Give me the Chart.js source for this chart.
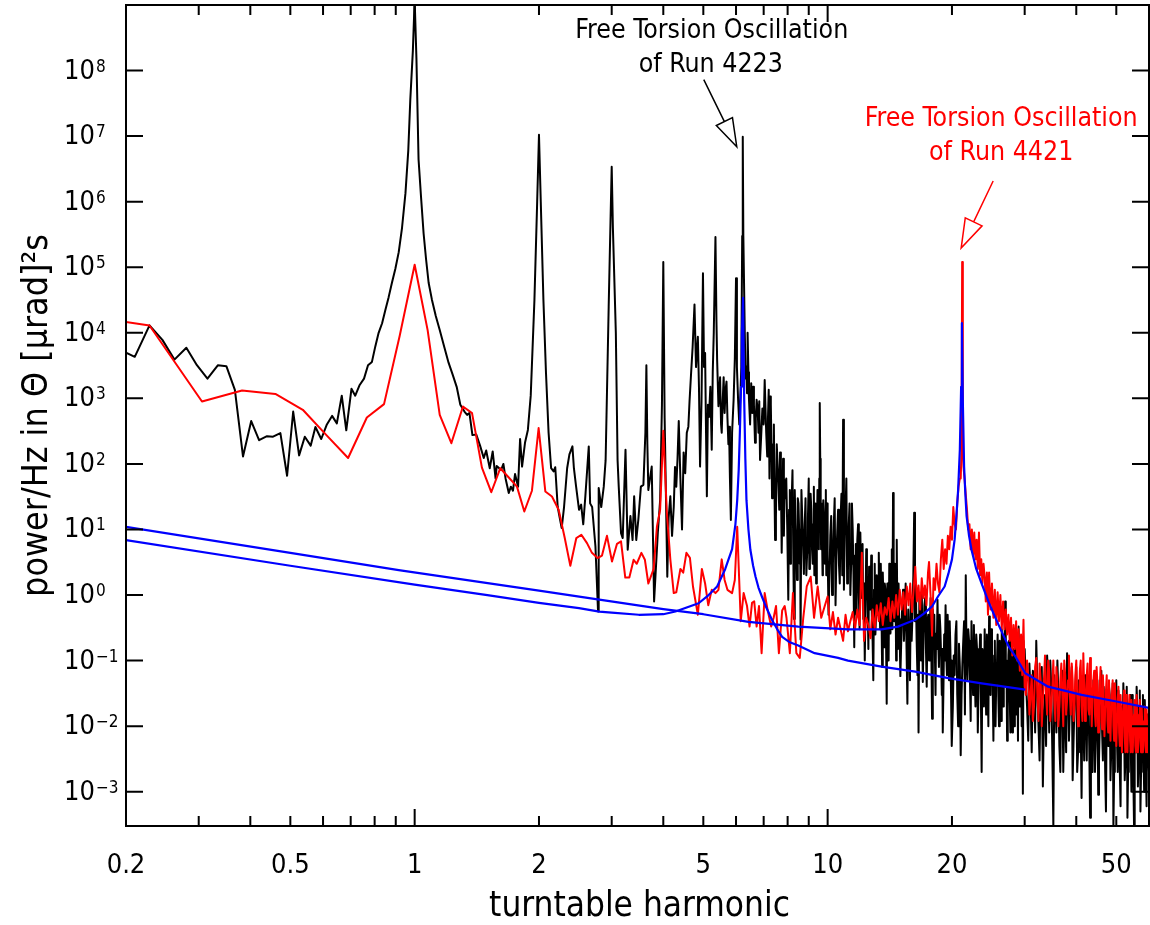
<!DOCTYPE html>
<html>
<head>
<meta charset="utf-8">
<script src="https://cdn.jsdelivr.net/npm/chart.js@4.4.0/dist/chart.umd.min.js"></script>
<style>
  html, body { margin: 0; padding: 0; background: #fff; }
</style>
</head>
<body>
<canvas id="chart" width="1150" height="925"></canvas>
<script>
const FONT = "'DejaVu Sans Condensed', 'Liberation Sans Narrow', 'DejaVu Sans', sans-serif";

// axis ticks
const xLabelValues = [0.2, 0.5, 1, 2, 5, 10, 20, 50];
const xMinorTicks = [0.3, 0.4, 0.5, 0.6, 0.7, 0.8, 0.9, 2, 3, 4, 5, 6, 7, 8, 9, 20, 30, 40, 50];
const xMajorTicks = [1, 10];
const yDecades = [-3, -2, -1, 0, 1, 2, 3, 4, 5, 6, 7, 8];

// spectrum of run 4223 (black), [harmonic, power]
const black4223 = [
  [0.2,5000],[0.21,4300],[0.228,13000],[0.245,7800],[0.262,3900],[0.28,5900],[0.297,3200],[0.315,2000],
  [0.334,3200],[0.35,3100],[0.367,1350],[0.384,130],[0.402,450],[0.42,230],[0.439,265],[0.454,260],
  [0.473,295],[0.491,66],[0.508,630],[0.525,135],[0.542,260],[0.56,190],[0.575,365],[0.594,240],
  [0.613,400],[0.631,540],[0.648,415],[0.666,1100],[0.683,325],[0.703,1400],[0.718,1100],[0.736,1600],
  [0.754,2000],[0.771,3200],[0.788,3600],[0.803,6200],[0.818,10000],[0.834,14000],[0.849,22000],
  [0.865,35000],[0.881,58000],[0.898,95000],[0.915,1.7e5],[0.932,4e5],[0.95,1.35e6],[0.965,6e6],
  [0.976,3.6e7],[0.99,2e8],[1.0,1.2e9],[1.01,1.5e8],[1.022,4.4e6],[1.036,1.2e6],[1.051,3.3e5],
  [1.066,1.3e5],[1.081,5.8e4],[1.101,3.2e4],[1.125,1.8e4],[1.15,1.1e4],[1.18,6000],[1.208,3500],
  [1.236,2300],[1.264,1500],[1.29,800],[1.32,630],[1.34,560],[1.357,600],[1.38,275],[1.41,280],
  [1.44,190],[1.47,123],[1.49,160],[1.52,86],[1.545,155],[1.57,60],[1.58,93],[1.62,81],[1.64,100],
  [1.66,60],[1.69,36],[1.71,45],[1.73,39],[1.75,70],[1.78,45],[1.8,240],[1.82,91],[1.85,210],
  [1.88,330],[1.91,1100],[1.95,3.2e4],[1.98,1e6],[2.0,1.05e7],[2.02,1e6],[2.05,3.2e4],[2.08,2400],
  [2.11,300],[2.14,86],[2.17,77],[2.19,89],[2.22,22],[2.25,14],[2.27,10.5],[2.3,22],[2.34,86],
  [2.37,140],[2.41,185],[2.43,86],[2.46,45],[2.5,20],[2.53,24],[2.56,12],[2.59,32],[2.64,185],
  [2.66,25],[2.69,22],[2.74,5.5],[2.78,0.56],[2.79,43],[2.83,22],[2.87,45],[2.9,114],[2.95,2.5e4],
  [2.98,5e5],[3.0,3.4e6],[3.02,4e5],[3.07,1e4],[3.1,114],[3.12,45],[3.16,8.8],[3.19,7.4],[3.24,165],
  [3.28,4.9],[3.33,16],[3.37,6.9],[3.4,32],[3.44,6.9],[3.48,14],[3.53,45],[3.58,48],[3.62,300],
  [3.64,3200],[3.66,200],[3.68,40],[3.75,91],[3.8,0.8],[3.88,9],[3.93,28],[3.97,800],[4.0,1.2e5],
  [4.03,500],[4.06,30],[4.09,1.9],[4.12,15],[4.16,32],[4.2,8],[4.24,22],[4.27,90],[4.3,45],[4.33,120],
  [4.36,450],[4.4,60],[4.44,10],[4.48,150],[4.52,72],[4.56,300],[4.6,370],[4.63,900],[4.67,2400],
  [4.71,6000],[4.76,2.7e4],[4.8,3000],[4.85,8700],[4.88,1500],[4.91,91],[4.95,900],[4.99,8.1e4],
  [5.02,3000],[5.05,4900],[5.08,200],[5.1,32],[5.13,800],[5.16,520],[5.2,1500],[5.24,165],[5.27,2500],
  [5.3,1e4],[5.35,2.9e5],[5.38,1.5e4],[5.4,3900],[5.44,760],[5.49,2100],[5.52,400],[5.54,300],
  [5.57,900],[5.6,2100],[5.63,600],[5.66,1350],[5.69,1800],[5.72,500],[5.75,200],[5.77,370],[5.8,60],
  [5.83,14],[5.87,300],[5.92,950],[5.96,4000],[6.0,6.8e4],[6.03,3000],[6.07,950],[6.11,400],
  [6.15,1200],[6.18,3000],[6.21,3e5],[6.23,9.8e6],[6.25,3e5],[6.3,1e4],[6.33,2000],[6.35,3100],
  [6.38,1200],[6.4,1e4],[6.43,2500],[6.45,950],[6.49,400],[6.53,1700],[6.57,600],[6.6,1500],
  [6.63,800],[6.67,210],[6.7,500],[6.73,950],[6.77,680],[6.8,300],[6.83,900],[6.86,115],[6.9,250],
  [6.95,700],[7.0,400],[7.04,1900],[7.1,300],[7.14,130],
  [7.2,1350],[7.26,1070],[7.31,200],[7.36,91],[7.41,400],[7.46,6.9],[7.53,200],[7.6,51],[7.67,150],
  [7.74,4.4],[7.8,120],[7.87,57],[7.94,60],[8.03,0.85],[8.1,40],[8.15,11],[8.22,80],[8.29,0.43],
  [8.36,12],[8.43,1.7],[8.5,25],[8.56,3],[8.6,0.21],[8.68,15],[8.76,2.1],[8.84,30],[8.92,4.4],
  [9.0,60],[9.06,8],[9.13,20],[9.2,3],[9.26,45],[9.31,9],[9.38,1.5],[9.45,40],[9.52,5],[9.57,850],
  [9.62,30],[9.66,12],[9.72,2],[9.76,28],[9.85,3],[9.9,40],[9.95,16],[10.0,4],
  [10.1,1.9],[10.2,16],[10.3,3],[10.4,30],[10.5,4],[10.6,20],[10.7,1.5],[10.8,35],[10.9,470],
  [11.0,8],[11.1,60],[11.2,2.4],[11.3,25],[11.4,3],[11.5,10],[11.6,0.16],[11.7,6],[11.8,7],[11.9,1],
  [12.0,9],[12.1,0.9],[12.2,0.43],[12.3,0.1],[12.4,5],[12.5,0.8],[12.6,2.7],[12.7,0.6],[12.8,0.33],
  [12.9,0.05],[13.0,3],[13.1,0.5],[13.2,1.6],[13.3,4.4],[13.4,0.3],[13.5,0.5],[13.6,2.2],[13.7,0.16],
  [13.8,1.2],[13.9,0.022],[14.0,0.8],[14.1,3],[14.2,0.26],[14.3,5],[14.4,36],[14.5,0.4],[14.6,1.35],
  [14.7,7],[14.8,0.15],[14.9,0.43],[15.0,0.058],
  [15.15,0.7],[15.3,0.2],[15.45,1.5],[15.6,0.022],[15.75,0.23],[15.9,0.9],[16.05,0.5],[16.2,18],
  [16.35,1.35],[16.5,0.06],[16.6,0.008],[16.75,0.33],[16.9,1.1],[17.0,0.047],[17.15,0.7],[17.3,0.15],
  [17.45,0.4],[17.6,0.1],[17.75,0.9],[17.9,0.013],[18.05,0.35],[18.2,0.09],[18.3,0.26],[18.45,0.85],
  [18.6,0.08],[18.75,0.3],[18.9,0.03],[19.0,0.008],[19.15,0.25],[19.3,0.7],[19.45,0.06],[19.6,0.2],
  [19.75,0.4],[19.9,0.03],[20.0,0.005],
  [20.2,0.12],[20.4,0.25],[20.6,0.03],[20.8,0.18],[21.0,0.0036],[21.2,0.09],[21.4,0.4],[21.6,2],
  [21.8,0.05],[22.0,0.2],[22.2,0.012],[22.4,0.1],[22.6,0.35],[22.8,0.02],[23.0,0.15],[23.2,0.04],
  [23.4,0.25],[23.6,0.002],[23.8,0.08],[24.0,0.3],[24.2,0.015],[24.4,0.12],[24.6,0.47],[24.8,0.03],
  [25.0,0.1],[25.2,0.006],[25.4,0.2],[25.6,0.05],[25.8,0.25],[26.0,0.01],[26.2,0.07],[26.4,0.3],
  [26.6,0.02],[26.8,0.15],[26.9,0.8],[27.0,0.04],[27.2,0.006],[27.4,0.12],[27.6,0.03],[27.8,0.25],
  [28.0,0.008],[28.2,0.06],[28.4,0.2],[28.6,0.015],[28.8,0.1],[29.0,0.33],[29.2,0.02],[29.4,0.07],
  [29.7,0.00093],[29.9,0.05],[30.0,0.15],
  [30.4,0.02],[30.8,0.09],[31.2,0.004],[31.6,0.05],[32.0,0.2],[32.4,0.01],[32.8,0.06],[33.2,0.0012],
  [33.6,0.03],[34.0,0.12],[34.4,0.008],[34.8,0.04],[35.2,0.0003],[35.6,0.025],[36.0,0.1],[36.4,0.005],
  [36.8,0.05],[37.2,0.002],[37.6,0.03],[38.0,0.13],[38.4,0.006],[38.8,0.04],[39.2,0.0015],[39.6,0.02],
  [40.0,0.08],[40.4,0.004],[40.8,0.03],[41.2,0.0008],[41.6,0.015],[42.0,0.06],[42.4,0.003],[42.8,0.025],
  [43.2,0.0004],[43.6,0.012],[44.0,0.05],[44.4,0.002],[44.8,0.02],[45.2,0.0009],[45.6,0.01],[46.0,0.07],
  [46.4,0.003],[46.8,0.018],[47.2,0.0005],[47.6,0.008],[48.0,0.04],[48.4,0.0015],[48.8,0.015],
  [49.2,0.0003],[49.6,0.006],[50.0,0.05],[50.4,0.002],[50.8,0.012],[51.2,0.0006],[51.6,0.007],
  [52.0,0.045],[52.4,0.0015],[52.8,0.01],[53.2,0.0004],[53.6,0.006],[54.0,0.03],[54.4,0.001],
  [54.8,0.008],[55.2,0.0003],[55.6,0.005],[56.0,0.04],[56.4,0.0012],[56.8,0.009],[57.2,0.0005],
  [57.6,0.006],[58.0,0.03],[58.4,0.001],[58.8,0.01],[59.2,0.0006],[59.6,0.007],[60.0,0.002]
];

// more readings of run 4223 inside the dense noise band
const black4223Dense = [
  [7.17,500],[7.23,60],[7.285,800],[7.335,30],[7.385,200],[7.435,40],[7.495,15],[7.565,100],
  [7.635,20],[7.705,60],[7.77,25],[7.835,8],[7.905,30],[7.985,10],[8.065,20],[8.125,3],[8.185,30],
  [8.255,5],[8.325,40],[8.395,6],[8.465,30],[8.53,10],[8.58,8],[8.64,40],[8.72,6],[8.8,12],[8.88,2],
  [8.96,15],[9.03,2.5],[9.095,35],[9.165,5],[9.23,12],[9.285,2],[9.345,25],[9.415,8],[9.485,15],
  [9.545,60],[9.595,120],[9.64,5],[9.69,25],[9.74,6],[9.805,15],[9.875,12],[9.925,2],[9.975,25],
  [10.05,0.5],[10.15,8],[10.25,1],[10.35,12],[10.45,0.7],[10.55,9],[10.65,3],[10.75,15],[10.85,2],
  [10.95,1.2],[11.05,20],[11.15,1.5],[11.25,12],[11.35,1],[11.45,25],[11.55,2],[11.65,4],[11.75,0.5],
  [11.85,12],[11.95,0.3],[12.05,2],[12.15,6],[12.25,1.5],[12.35,0.6],[12.45,2],[12.55,0.15],[12.65,1],
  [12.75,4],[12.85,0.2],[12.95,1.2],[13.05,0.25],[13.15,2],[13.25,0.5],[13.35,0.9],[13.45,3],
  [13.55,0.08],[13.65,0.8],[13.75,1.5],[13.85,0.2],[13.95,1.5],[14.05,0.1],[14.15,0.6],[14.25,2],
  [14.35,0.3],[14.45,1],[14.55,3],[14.65,0.1],[14.75,0.5],[14.85,1.5],[14.95,0.2],
  [15.075,0.2],[15.225,1.2],[15.375,0.5],[15.525,0.15],[15.675,0.6],[15.825,0.05],[15.975,0.2],
  [16.125,2],[16.275,0.4],[16.425,0.2],[16.55,0.5],[16.675,0.9],[16.825,0.1],[16.95,0.3],[17.075,0.25],
  [17.225,0.9],[17.375,0.04],[17.525,0.5],[17.675,0.25],[17.825,0.15],[17.975,0.6],[18.125,0.5],
  [18.25,0.03],[18.375,0.15],[18.525,0.2],[18.675,0.5],[18.825,0.12],[18.95,0.15],[19.075,0.04],
  [19.225,0.1],[19.375,0.12],[19.525,0.5],[19.675,0.05],[19.825,0.15],[19.95,0.1],
  [20.1,0.02],[20.3,0.06],[20.5,0.4],[20.7,0.01],[20.9,0.08],[21.1,0.03],[21.3,0.2],[21.5,0.015],
  [21.7,0.1],[21.9,0.3],[22.1,0.06],[22.3,0.4],[22.5,0.03],[22.7,0.08],[22.9,0.25],[23.1,0.008],
  [23.3,0.1],[23.5,0.03],[23.7,0.15],[23.9,0.02],[24.1,0.07],[24.3,0.25],[24.5,0.01],[24.7,0.1],
  [24.9,0.3],[25.1,0.04],[25.3,0.12],[25.5,0.01],[25.7,0.08],[25.9,0.03],[26.1,0.2],[26.3,0.012],
  [26.5,0.06],[26.7,0.25],[27.1,0.1],[27.3,0.02],[27.5,0.2],[27.7,0.008],[27.9,0.06],[28.1,0.15],
  [28.3,0.01],[28.5,0.05],[28.7,0.25],[28.9,0.006],[29.1,0.08],[29.3,0.15],[29.5,0.01],[29.6,0.05],
  [29.8,0.2],
  [30.2,0.05],[30.6,0.006],[31.0,0.03],[31.4,0.07],[31.8,0.008],[32.2,0.04],[32.6,0.003],[33.0,0.08],
  [33.4,0.015],[33.8,0.005],[34.2,0.04],[34.6,0.1],[35.0,0.004],[35.4,0.06],[35.8,0.008],[36.2,0.03],
  [36.6,0.002],[37.0,0.07],[37.4,0.012],[37.8,0.004],[38.2,0.05],[38.6,0.02],[39.0,0.08],[39.4,0.006],
  [39.8,0.04],[40.2,0.002],[40.6,0.05],[41.0,0.01],[41.4,0.035],[41.8,0.003],[42.2,0.02],[42.6,0.06],
  [43.0,0.005],[43.4,0.03],[43.8,0.002],[44.2,0.025],[44.6,0.006],[45.0,0.05],[45.4,0.003],
  [45.8,0.025],[46.2,0.008],[46.6,0.04],[47.0,0.002],[47.4,0.02],[47.8,0.005],[48.2,0.03],
  [48.6,0.004],[49.0,0.045],[49.4,0.002],[49.8,0.015],[50.2,0.006],[50.6,0.035],[51.0,0.002],
  [51.4,0.02],[51.8,0.004],[52.2,0.015],[52.6,0.003],[53.0,0.04],[53.4,0.002],[53.8,0.015],
  [54.2,0.005],[54.6,0.03],[55.0,0.0015],[55.4,0.012],[55.8,0.004],[56.2,0.02],[56.6,0.003],
  [57.0,0.035],[57.4,0.002],[57.8,0.012],[58.2,0.004],[58.6,0.025],[59.0,0.002],[59.4,0.015],
  [59.8,0.004]
];

// spectrum of run 4421 (red)
const red4421 = [
  [0.2,14600],[0.228,12900],[0.3055,895],[0.382,1320],[0.46,1170],[0.536,670],[0.613,270],[0.69,123],
  [0.766,510],[0.843,817],[0.92,9000],[1.0,1.09e5],[1.075,1.1e4],[1.15,560],[1.227,207],[1.309,751],
  [1.377,596],[1.455,88],[1.533,37],[1.612,86],[1.69,62],[1.769,45],[1.843,18.8],[1.923,39],
  [1.996,352],[2.072,38],[2.15,31.8],[2.232,20],[2.309,7.4],[2.382,2.79],[2.463,7.4],[2.533,8.3],
  [2.614,6.2],[2.687,4.4],[2.773,3.66],[2.842,4.0],[2.922,8.0],[3.005,3.25],[3.09,6.05],[3.16,6.6],
  [3.236,1.85],[3.31,1.85],[3.39,3.45],[3.45,3.0],[3.54,4.4],[3.61,3.45],[3.68,1.5],[3.79,2.5],
  [3.86,11],[3.93,20],[4.0,320],[4.08,18],[4.16,3.5],[4.24,1.07],[4.3,1.1],[4.4,2.5],[4.47,2.2],
  [4.55,4.4],[4.64,3.7],[4.72,1.35],[4.85,0.5],[4.96,2.5],[5.05,1.5],[5.14,0.7],[5.24,1.2],[5.35,1.07],
  [5.44,1.2],[5.54,3.5],[5.63,1.7],[5.72,1.2],[5.87,1.07],[5.96,1.7],[6.04,11],[6.16,0.4],[6.26,1.07],
  [6.38,0.68],[6.47,0.33],[6.56,0.76],[6.64,0.8],[6.73,0.33],[6.82,0.68],[6.92,0.13],[7.04,1.07],
  [7.16,0.58],[7.3,0.33],[7.4,0.45],[7.5,0.68],[7.62,0.13],[7.76,0.58],[7.87,0.68],[7.95,0.45],
  [8.1,0.13],[8.24,1.07],[8.4,0.13],[8.56,0.11],[8.73,0.45],[8.9,1.35],[9.1,1.9],[9.27,0.45],
  [9.46,1.35],[9.65,0.45],[9.84,0.68],[10.0,0.95],
  [10.15,0.3],[10.3,0.55],[10.45,0.25],[10.6,0.45],[10.75,0.3],[10.9,0.2],[11.05,0.5],[11.2,0.28],
  [11.35,0.4],[11.5,0.55],[11.65,0.3],[11.8,0.6],[11.95,0.35],[12.1,4.4],[12.25,0.2],[12.4,0.45],
  [12.55,0.35],[12.7,0.22],[12.85,0.6],[13.0,0.3],[13.15,0.7],[13.3,0.4],[13.45,0.75],[13.6,0.35],
  [13.75,0.65],[13.9,0.5],[14.05,0.9],[14.2,0.4],[14.35,0.8],[14.5,0.45],[14.65,1.0],[14.8,0.5],
  [14.95,1.2],[15.1,0.6],[15.25,1.1],[15.4,0.5],[15.55,1.35],[15.7,0.7],[15.85,1.5],[16.0,0.55],
  [16.15,1.2],[16.3,2.7],[16.45,0.8],[16.6,1.4],[16.75,0.6],[16.9,1.8],[17.05,0.9],[17.2,1.4],
  [17.35,0.7],[17.5,2.2],[17.6,3.2],[17.75,1.0],[17.9,0.24],[18.05,1.8],[18.2,1.2],[18.35,3.0],
  [18.5,1.5],[18.65,1.1],[18.8,3.5],[18.95,7],[19.1,2.5],[19.25,5],[19.4,3],[19.55,8],[19.7,5],
  [19.85,11],[20.0,7],[20.15,22],[20.3,12],[20.45,10],[20.6,25],[20.75,45],[20.9,60],[21.0,60],
  [21.09,150],[21.17,1.2e5],[21.25,210],[21.33,90],[21.45,60],[21.6,34],[21.75,20],[21.9,10],
  [22.05,12],[22.2,5],[22.35,10],[22.5,4],[22.65,9],[22.8,3.5],[22.95,7],[23.1,2.5],[23.25,9],
  [23.4,2],[23.55,3.5],[23.7,1.5],[23.85,3],[24.0,1.9],[24.15,0.8],[24.3,2.2],[24.45,0.5],[24.6,2.2],
  [24.8,0.6],[25.0,1.5],[25.2,0.45],[25.4,1.2],[25.6,0.35],[25.8,1.1],[26.0,0.4],[26.2,1.0],
  [26.4,0.3],[26.6,0.8],[26.8,0.3],[27.0,0.6],[27.2,0.25],[27.4,0.5],[27.6,0.2],[27.8,0.45],
  [28.0,0.12],[28.2,0.35],[28.4,0.15],[28.6,0.4],[28.8,0.1],[29.0,0.3],[29.2,0.07],[29.4,0.25],
  [29.6,0.06],[29.8,0.42],[30.0,0.04],
  [30.4,0.1],[30.8,0.015],[31.2,0.06],[31.6,0.02],[32.0,0.11],[32.4,0.012],[32.8,0.05],[33.2,0.025],
  [33.6,0.12],[34.0,0.015],[34.4,0.07],[34.8,0.02],[35.2,0.1],[35.6,0.012],[36.0,0.045],[36.4,0.02],
  [36.8,0.09],[37.2,0.01],[37.6,0.06],[38.0,0.025],[38.4,0.12],[38.8,0.015],[39.2,0.05],[39.6,0.02],
  [40.0,0.1],[40.4,0.01],[40.8,0.07],[41.2,0.02],[41.6,0.13],[42.0,0.012],[42.4,0.06],[42.8,0.018],
  [43.2,0.11],[43.6,0.01],[44.0,0.05],[44.4,0.015],[44.8,0.08],[45.2,0.008],[45.6,0.04],[46.0,0.012],
  [46.4,0.06],[46.8,0.007],[47.2,0.035],[47.6,0.012],[48.0,0.05],[48.4,0.006],[48.8,0.03],[49.2,0.01],
  [49.6,0.045],[50.0,0.005],[50.4,0.025],[50.8,0.008],[51.2,0.03],[51.6,0.004],[52.0,0.02],[52.4,0.007],
  [52.8,0.03],[53.2,0.004],[53.6,0.018],[54.0,0.006],[54.4,0.025],[54.8,0.004],[55.2,0.015],
  [55.6,0.005],[56.0,0.03],[56.4,0.004],[56.8,0.015],[57.2,0.006],[57.6,0.02],[58.0,0.004],
  [58.4,0.012],[58.8,0.005],[59.2,0.018],[59.6,0.004],[60.0,0.01]
];

// more readings of run 4421 inside the dense band above 30
const red4421Dense = [
  [30.2,0.03],[30.6,0.06],[31.0,0.03],[31.4,0.012],[31.8,0.08],[32.2,0.03],[32.6,0.09],[33.0,0.01],
  [33.4,0.05],[33.8,0.03],[34.2,0.1],[34.6,0.012],[35.0,0.04],[35.4,0.025],[35.8,0.08],[36.2,0.01],
  [36.6,0.05],[37.0,0.03],[37.4,0.1],[37.8,0.015],[38.2,0.05],[38.6,0.03],[39.0,0.09],[39.4,0.012],
  [39.8,0.06],[40.2,0.03],[40.6,0.02],[41.0,0.1],[41.4,0.012],[41.8,0.04],[42.2,0.025],[42.6,0.09],
  [43.0,0.015],[43.4,0.04],[43.8,0.03],[44.2,0.07],[44.6,0.01],[45.0,0.045],[45.4,0.02],[45.8,0.08],
  [46.2,0.009],[46.6,0.03],[47.0,0.02],[47.4,0.06],[47.8,0.008],[48.2,0.025],[48.6,0.02],[49.0,0.05],
  [49.4,0.006],[49.8,0.02],[50.2,0.012],[50.6,0.04],[51.0,0.005],[51.4,0.015],[51.8,0.012],
  [52.2,0.035],[52.6,0.004],[53.0,0.015],[53.4,0.01],[53.8,0.03],[54.2,0.004],[54.6,0.012],
  [55.0,0.01],[55.4,0.025],[55.8,0.004],[56.2,0.012],[56.6,0.008],[57.0,0.025],[57.4,0.004],
  [57.8,0.01],[58.2,0.008],[58.6,0.02],[59.0,0.004],[59.4,0.01],[59.8,0.007]
];

// fitted curves (blue)
const fit4223 = [
  [0.2,6.9],[0.5,2.8],[1,1.44],[1.5,1.0],[2,0.76],[2.5,0.63],[2.8,0.56],[3.0,0.54],[3.49,0.5],
  [4.0,0.51],[4.28,0.56],[4.87,0.75],[5.15,1.0],[5.4,1.35],[5.65,2.5],[5.87,5],[5.98,12],[6.04,28],
  [6.09,80],[6.13,300],[6.17,1500],[6.2,1e4],[6.24,3.4e4],[6.28,950],[6.32,120],[6.36,28],[6.43,10],
  [6.5,4.9],[6.6,2.8],[6.69,1.9],[6.8,1.3],[6.93,0.95],[7.1,0.65],[7.33,0.42],[7.55,0.3],[7.76,0.23],
  [8.1,0.19],[8.49,0.17],[9.3,0.13],[10.6,0.11],[11.2,0.10],[13.5,0.081],[16.3,0.068],[19.6,0.054],
  [23.6,0.045],[30.1,0.036]
];
const fit4421 = [
  [0.2,11],[0.5,4.4],[0.915,2.4],[2,1.17],[2.8,0.85],[4,0.61],[5,0.51],[6.43,0.39],[8.49,0.33],
  [11.2,0.30],[13.5,0.30],[14.8,0.33],[15.5,0.37],[16.3,0.42],[17.1,0.52],[17.9,0.67],[18.5,0.95],
  [19.2,1.35],[19.6,2.1],[20,3.5],[20.3,7],[20.5,16],[20.7,40],[20.9,165],[21.05,1500],[21.14,1.4e4],
  [21.25,900],[21.4,91],[21.55,35],[21.7,16],[22.0,8],[22.3,4.9],[22.9,2.5],[23.6,1.5],[24.5,0.8],
  [25.4,0.47],[26.5,0.26],[27.5,0.16],[28.5,0.115],[30.1,0.064],[34.2,0.04],[41.2,0.03],[49.7,0.024],
  [60,0.019]
];

// peaks the arrows point at
const peak4223 = [6.23, 9.8e6];
const peak4421 = [21.17, 1.2e5];

const toXY = arr => arr.map(p => ({ x: p[0], y: p[1] }));
const merged = (a, b) => a.concat(b).sort((p, q) => p[0] - q[0]);

function fitFont(ctx, text, width, base) {
  ctx.font = base + "px " + FONT;
  const w = ctx.measureText(text).width;
  return base * width / w;
}

function arrow(ctx, tail, tip, headLen, halfW) {
  const dx = tip[0] - tail[0], dy = tip[1] - tail[1];
  const len = Math.hypot(dx, dy);
  const ux = dx / len, uy = dy / len;
  const bx = tip[0] - ux * headLen, by = tip[1] - uy * headLen;
  ctx.beginPath();
  ctx.moveTo(tail[0], tail[1]);
  ctx.lineTo(bx, by);
  ctx.moveTo(tip[0], tip[1]);
  ctx.lineTo(bx - uy * halfW, by + ux * halfW);
  ctx.lineTo(bx + uy * halfW, by - ux * halfW);
  ctx.closePath();
  ctx.stroke();
}

const framePlugin = {
  id: "frame",
  afterDraw(chart) {
    const { ctx, chartArea: a, scales: { x, y } } = chart;
    ctx.save();
    ctx.strokeStyle = "#000";
    ctx.lineWidth = 2;
    ctx.strokeRect(a.left, a.top, a.right - a.left, a.bottom - a.top);

    // inward ticks
    ctx.beginPath();
    xMinorTicks.concat(xMajorTicks).forEach(v => {
      const px = x.getPixelForValue(v);
      const len = xMajorTicks.includes(v) ? 17 : 10;
      ctx.moveTo(px, a.bottom); ctx.lineTo(px, a.bottom - len);
      ctx.moveTo(px, a.top); ctx.lineTo(px, a.top + len);
    });
    yDecades.forEach(e => {
      const py = y.getPixelForValue(Math.pow(10, e));
      ctx.moveTo(a.left, py); ctx.lineTo(a.left + 17, py);
      ctx.moveTo(a.right, py); ctx.lineTo(a.right - 17, py);
    });
    ctx.stroke();

    // y tick labels 10^n
    ctx.fillStyle = "#000";
    yDecades.forEach(e => {
      const py = y.getPixelForValue(Math.pow(10, e));
      ctx.font = "27px " + FONT;
      ctx.textAlign = "left";
      ctx.textBaseline = "middle";
      ctx.fillText("10", 64, py + 1);
      const w = ctx.measureText("10").width;
      ctx.font = "17px " + FONT;
      ctx.textBaseline = "alphabetic";
      ctx.fillText(String(e).replace("-", "\u2212"), 64 + w + 1, py + 1);
    });

    // axis titles
    ctx.textAlign = "center";
    ctx.textBaseline = "middle";
    const yTitle = "power/Hz in \u0398 [\u03bcrad]\u00b2s";
    ctx.font = fitFont(ctx, yTitle, 363, 30) + "px " + FONT;
    ctx.save();
    ctx.translate(38, (a.top + a.bottom) / 2);
    ctx.rotate(-Math.PI / 2);
    ctx.fillText(yTitle, 0, 0);
    ctx.restore();
    const xTitle = "turntable harmonic";
    ctx.font = fitFont(ctx, xTitle, 301, 31) + "px " + FONT;
    ctx.fillText(xTitle, (a.left + a.right) / 2 + 2, 907);

    // annotations
    const line1 = "Free Torsion Oscillation";
    const annSize = fitFont(ctx, line1, 273, 25);
    ctx.lineWidth = 1.5;

    const t1 = [x.getPixelForValue(peak4223[0]) - 6, y.getPixelForValue(peak4223[1]) + 10];
    ctx.fillStyle = "#000"; ctx.strokeStyle = "#000";
    ctx.font = annSize + "px " + FONT;
    ctx.fillText(line1, t1[0] - 25, t1[1] - 116);
    ctx.fillText("of Run 4223", t1[0] - 26, t1[1] - 82);
    arrow(ctx, [t1[0] - 33, t1[1] - 67], t1, 28, 9);

    const t2 = [x.getPixelForValue(peak4421[0]) - 1, y.getPixelForValue(peak4421[1]) - 14];
    ctx.fillStyle = "#ff0000"; ctx.strokeStyle = "#ff0000";
    ctx.fillText(line1, t2[0] + 40, t2[1] - 129);
    ctx.fillText("of Run 4421", t2[0] + 40, t2[1] - 95);
    arrow(ctx, [t2[0] + 32, t2[1] - 67], t2, 29, 9.3);
    ctx.restore();
  }
};

// order: higher numbers are drawn first, so black sits at the bottom and blue on top
new Chart(document.getElementById("chart"), {
  type: "line",
  data: {
    datasets: [
      { label: "Run 4223", data: toXY(merged(black4223, black4223Dense)), borderColor: "#000000", borderWidth: 2, order: 3 },
      { label: "Run 4421", data: toXY(merged(red4421, red4421Dense)), borderColor: "#ff0000", borderWidth: 2, order: 2 },
      { label: "Fit 4223", data: toXY(fit4223), borderColor: "#0000ff", borderWidth: 2.2, order: 1 },
      { label: "Fit 4421", data: toXY(fit4421), borderColor: "#0000ff", borderWidth: 2.2, order: 0 }
    ]
  },
  options: {
    responsive: false,
    animation: false,
    devicePixelRatio: 1,
    layout: { padding: { top: 5, right: 1, left: 0, bottom: 0 } },
    elements: {
      point: { radius: 0 },
      line: { tension: 0, borderJoinStyle: "round", fill: false }
    },
    plugins: { legend: { display: false }, tooltip: { enabled: false } },
    scales: {
      x: {
        type: "logarithmic",
        min: 0.2,
        max: 60,
        grid: { display: false },
        border: { display: false },
        afterBuildTicks: s => { s.ticks = xLabelValues.map(v => ({ value: v })); },
        ticks: {
          autoSkip: false,
          maxRotation: 0,
          padding: 16,
          color: "#000",
          font: { family: FONT, size: 27 },
          callback: v => String(v)
        },
        afterFit: s => { s.height = 99; }
      },
      y: {
        type: "logarithmic",
        min: 3e-4,
        max: 1e9,
        grid: { display: false },
        border: { display: false },
        ticks: { display: false },
        afterFit: s => { s.width = 126; }
      }
    }
  },
  plugins: [framePlugin]
});
</script>
</body>
</html>
